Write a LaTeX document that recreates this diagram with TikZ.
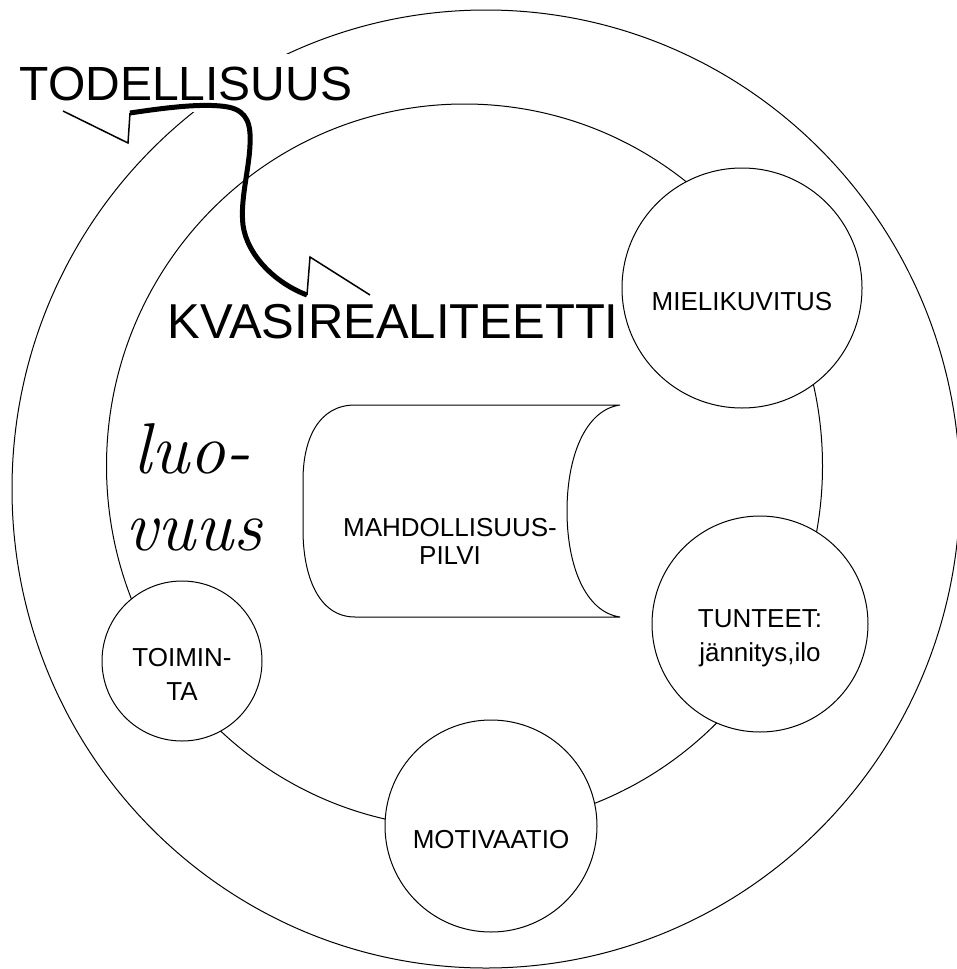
\documentclass[tikz,border=0pt]{standalone}
\usepackage{fontspec}
\newfontfamily\arialsans{Liberation Sans}
\tikzset{
  ringline/.style={line width=1pt},
  ring/.style={circle, draw, fill=white, line width=1pt, inner sep=0pt},
  lbl/.style={font=\arialsans\fontsize{26}{34}\selectfont, align=center},
  headline/.style={font=\arialsans\fontsize{48}{52}\selectfont, inner sep=0pt},
  hand/.style={font=\itshape\fontsize{72}{76}\selectfont, inner sep=0pt},
  bolt/.style={line width=1.5pt},
  wave/.style={line width=5pt}
}
\begin{document}
\begin{tikzpicture}[x=1pt, y=-1pt]
  \clip (0,0) rectangle (957,969);
  % Renkaat
  \draw[ringline] (486,489) ellipse [x radius=474, y radius=479];
  \draw[ringline] (464.5,466) ellipse [x radius=358, y radius=362];
  % Otsikot
  \node[headline, fill=white, inner sep=12pt, anchor=base] (todell) at (186,100) {TODELLISUUS};
  \node[headline, font=\arialsans\fontsize{49}{53}\selectfont, anchor=base] (kvasi) at (393,338) {KVASIREALITEETTI};
  % Pienet ympyrat
  \node[ring, minimum size=240pt] (mieli) at (742,288) {};
  \node[lbl] (mielitxt) at ([yshift=-14pt]mieli.center) {MIELIKUVITUS};
  \node[ring, minimum size=216pt] (tunt) at (760,624) {};
  \node[lbl] (tunttxt) at ([yshift=-14pt]tunt.center) {TUNTEET:\\j\"annitys,ilo};
  \node[ring, minimum size=212pt] (moti) at (491,826) {};
  \node[lbl] (motitxt) at ([yshift=-14pt]moti.center) {MOTIVAATIO};
  \node[ring, minimum size=160pt] (toim) at (182,661) {};
  \node[lbl] (toimtxt) at ([yshift=-13pt]toim.center) {TOIMIN-\\TA};
  % Mahdollisuuspilvi
  \draw[ringline, fill=white] (620,405) -- (355,405)
    .. controls (318,405) and (303,440) .. (303,480) -- (303,530)
    .. controls (303,575) and (318,617) .. (355,617) -- (620,617)
    .. controls (585,612) and (567,565) .. (567,511)
    .. controls (567,457) and (585,410) .. (620,405) -- cycle;
  \node[lbl, font=\arialsans\fontsize{26}{28}\selectfont] (pilvi) at (450,541) {MAHDOLLISUUS-\\PILVI};
  % Kasin kirjoitettu
  \node[hand, anchor=base west] (luo) at (133,473) {luo-};
  \node[hand, anchor=base west] (vuus) at (125,550) {vuus};
  % Salama todellisuudesta kvasirealiteettiin
  \coordinate (boltA) at (63,111);
  \coordinate (boltB) at (128,143);
  \coordinate (waveA) at (130,113);
  \coordinate (waveB) at (307,295);
  \coordinate (boltC) at (310,257);
  \coordinate (boltD) at (370,295);
  \draw[bolt] (boltA) -- (boltB) -- (waveA);
  \draw[wave] (waveA) .. controls (170,107) and (205,103) .. (228,107)
    .. controls (248,111) and (251,125) .. (250,145)
    .. controls (249,170) and (240,200) .. (243,225)
    .. controls (247,255) and (275,283) .. (waveB);
  \draw[bolt] (waveB) -- (boltC) -- (boltD);
\end{tikzpicture}
\end{document}
